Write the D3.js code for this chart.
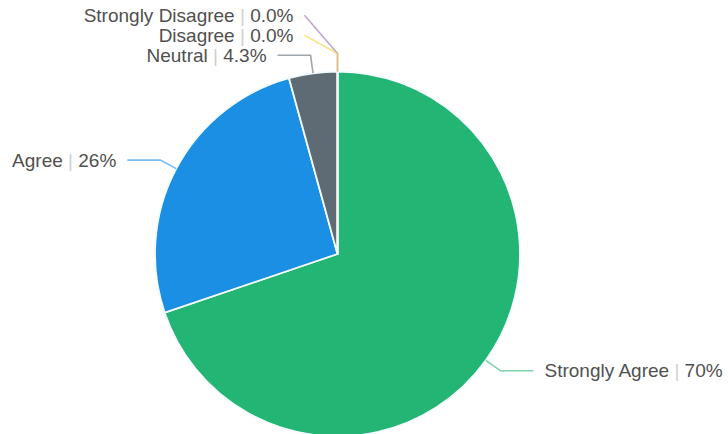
<!DOCTYPE html>
<html>
<head>
<meta charset="utf-8">
<script src="https://cdn.jsdelivr.net/npm/d3@7/dist/d3.min.js"></script>
<style>
  html, body { margin: 0; padding: 0; background: #fff; }
  svg { display: block; }
</style>
</head>
<body>
<svg id="chart" width="728" height="434"></svg>
<script>
// Survey responses (share of respondents, %)
const categories = ["Strongly Agree", "Agree", "Neutral", "Disagree", "Strongly Disagree"];
const values = [70, 26, 4.3, 0, 0];
const valueLabels = ["70%", "26%", "4.3%", "0.0%", "0.0%"];
const colors = ["#22b573", "#1a8fe4", "#5f6b74", "#f2d33c", "#8e6bab"];

const width = 728, height = 434;
const cx = 337.5, cy = 254, radius = 182.5;
const elbow = 18, tail = 33, textGap = 11, minSpacing = 20;

const svg = d3.select("#chart");
const g = svg.append("g").attr("transform", `translate(${cx},${cy})`);

const data = categories.map((c, i) => ({ name: c, value: values[i], label: valueLabels[i], color: colors[i] }));

const pie = d3.pie().value(d => d.value).sort(null);
const arcs = pie(data);

const arc = d3.arc().innerRadius(0).outerRadius(radius);

// Slices
g.selectAll("path.slice")
  .data(arcs)
  .join("path")
  .attr("class", "slice")
  .attr("d", arc)
  .attr("fill", d => d.data.color)
  .attr("stroke", "#f4fbff")
  .attr("stroke-width", 1.8)
  .attr("stroke-linejoin", "round");

// Leader-line geometry: edge point, radial elbow, then label anchor
const pt = (a, r) => [Math.sin(a) * r, -Math.cos(a) * r];
const items = arcs.map(d => {
  const mid = (d.startAngle + d.endAngle) / 2;
  const A = pt(mid, radius);
  const B = pt(mid, radius + elbow);
  const right = Math.sin(mid) > 1e-6;
  return { d, A, B, right, y: B[1] };
});

// Resolve overlapping labels on each side by pushing them upward
["left", "right"].forEach(side => {
  const list = items.filter(it => (side === "right") === it.right)
    .sort((a, b) => b.y - a.y);
  for (let i = 1; i < list.length; i++) {
    if (list[i - 1].y - list[i].y < minSpacing) list[i].y = list[i - 1].y - minSpacing;
  }
});

items.forEach(it => {
  const dir = it.right ? 1 : -1;
  it.C = [it.B[0] + dir * tail, it.y];
});

// Draw zero-size slices' lines first so larger ones sit on top
const drawOrder = items.slice().reverse();

g.selectAll("polyline.leader")
  .data(drawOrder)
  .join("polyline")
  .attr("class", "leader")
  .attr("points", it => [it.A, it.B, it.C].map(p => p.join(",")).join(" "))
  .attr("fill", "none")
  .attr("stroke", it => it.d.data.color)
  .attr("stroke-opacity", 0.6)
  .attr("stroke-width", 1.6);

const labels = g.selectAll("text.label")
  .data(items)
  .join("text")
  .attr("class", "label")
  .attr("x", it => it.C[0] + (it.right ? textGap : -textGap))
  .attr("y", it => it.C[1])
  .attr("dy", "0.35em")
  .attr("text-anchor", it => it.right ? "start" : "end")
  .attr("font-family", "'Liberation Sans', Arial, sans-serif")
  .attr("font-size", 19)
  .attr("fill", "#505050");

labels.append("tspan").text(it => it.d.data.name);
labels.append("tspan").attr("fill", "#d0d0d0").text(" | ");
labels.append("tspan").text(it => it.d.data.label);
</script>
</body>
</html>
